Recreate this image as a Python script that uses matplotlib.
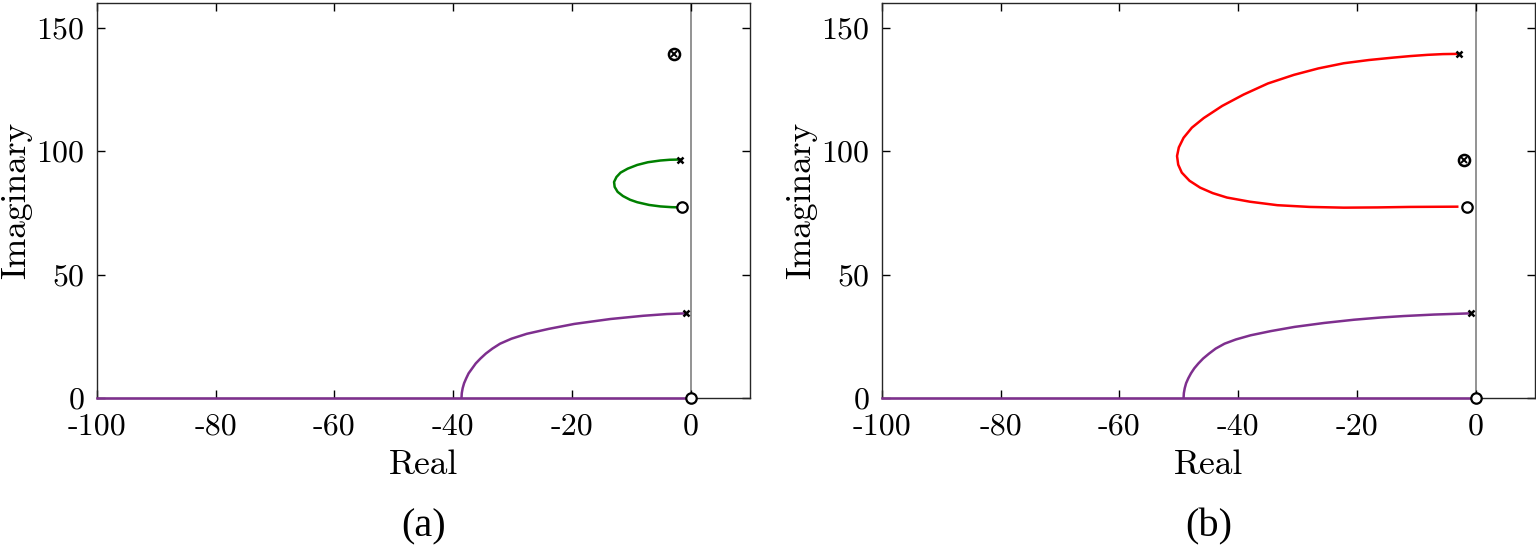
import matplotlib
matplotlib.use("Agg")
import matplotlib.pyplot as plt

# ---------------- data ----------------
# panel (a)
a_purple_x = [-38.6, -38.55, -38.4, -38.16, -37.8, -37.4, -36.8, -36.2, -35.4,
              -34.5, -33.4, -32.1, -30.2, -27.6, -23.9, -19.6, -13.5, -8.0,
              -4.0, -0.7]
a_purple_y = [0.0, 2.0, 4.0, 6.0, 8.0, 10.0, 12.0, 14.0, 16.0,
              18.0, 20.0, 22.0, 24.0, 26.0, 28.0, 30.0, 32.0, 33.3,
              34.0, 34.3]
a_green_x = [-1.85, -3.5, -5.1, -7.2, -9.0, -10.6, -11.8, -12.5, -12.9, -12.8,
             -12.3, -11.4, -10.2, -9.0, -7.0, -5.1, -3.2, -1.4]
a_green_y = [96.6, 96.5, 96.2, 95.5, 94.4, 92.9, 91.3, 89.5, 87.5, 85.5,
             83.5, 81.8, 80.3, 79.3, 78.2, 77.6, 77.3, 77.2]
a_poles = ([-1.85, -0.7], [96.6, 34.3])
a_zeros = ([-1.4, 0.0], [77.2, 0.0])
a_cancel = ([-2.8], [139.4])

# panel (b)
b_purple_x = [-49.2, -49.15, -49.0, -48.77, -48.4, -47.95, -47.4, -46.7, -45.9,
              -44.9, -43.8, -42.3, -40.4, -37.9, -34.5, -30.5, -25.5, -20.5,
              -16.0, -12.1, -7.0, -0.8]
b_purple_y = [0.0, 2.0, 4.0, 6.0, 8.0, 10.0, 12.0, 14.0, 16.0,
              18.0, 20.0, 22.0, 23.7, 25.4, 27.1, 28.8, 30.4, 31.7,
              32.6, 33.2, 33.8, 34.3]
b_red_x = [-2.8, -5.5, -8.1, -11.0, -13.8, -18.0, -22.2, -26.5, -30.6, -35.0,
           -39.1, -42.7, -45.8, -47.8, -49.2, -50.0, -50.3, -50.1, -49.5,
           -48.2, -46.4, -44.3, -41.9, -38.0, -33.4, -28.0, -22.2, -16.5,
           -11.0, -3.1]
b_red_y = [139.4, 139.3, 139.0, 138.5, 137.9, 136.9, 135.6, 133.5, 130.9, 127.4,
           122.9, 118.3, 113.4, 109.5, 105.4, 101.5, 98.0, 94.5, 91.3,
           88.0, 85.2, 83.0, 81.2, 79.5, 78.1, 77.4, 77.1, 77.2,
           77.4, 77.5]
b_poles = ([-2.8, -0.8], [139.4, 34.3])
b_zeros = ([-1.5, 0.0], [77.5, 0.0])
b_cancel = ([-2.0], [96.6])

real_axis_x = [-100, 0]
real_axis_y = [0, 0]

x_ticks = [-100, -80, -60, -40, -20, 0]
x_labels = ["-100", "-80", "-60", "-40", "-20", "0"]
y_ticks = [0, 50, 100, 150]
y_labels = ["0", "50", "100", "150"]

GREEN = "#008000"
RED = "#FF0000"
PURPLE = "#7E2F8E"

plt.rcParams["font.family"] = ["cmr10", "DejaVu Serif"]
plt.rcParams["axes.unicode_minus"] = False

fig = plt.figure(figsize=(15.36, 5.49), dpi=100)
W, H = 1536, 549
ax_a = fig.add_axes([97 / W, (H - 398) / H, 653 / W, 395 / H])
ax_b = fig.add_axes([882 / W, (H - 398) / H, 653 / W, 395 / H])


def style(ax, label):
    ax.set_xlim(-100, 10)
    ax.set_ylim(0, 160)
    ax.axvline(0, color="#808080", lw=1.2, zorder=1)
    ax.set_xticks(x_ticks)
    ax.set_xticklabels(x_labels)
    ax.set_yticks(y_ticks)
    ax.set_yticklabels(y_labels)
    ax.tick_params(direction="in", length=6, width=1.0, labelsize=23,
                   top=True, right=True)
    ax.tick_params(axis="x", pad=11)
    ax.tick_params(axis="y", pad=9)
    for s in ax.spines.values():
        s.set_linewidth(1.0)
        s.set_color("#262626")
    ax.set_xlabel("Real", fontsize=25.5, labelpad=6)
    ax.set_ylabel("Imaginary", fontsize=25.5, labelpad=3)
    ax.text(0.5, -0.327, label, transform=ax.transAxes, ha="center",
            va="center", fontsize=29, family="Liberation Serif")


def markers(ax, poles, zeros, cancel):
    ax.plot(poles[0], poles[1], "x", color="black", ms=5, mew=1.8, zorder=5,
            clip_on=False)
    ax.plot(zeros[0], zeros[1], "o", mfc="white", mec="black", ms=7.5,
            mew=1.6, zorder=5, clip_on=False)
    ax.plot(cancel[0], cancel[1], "o", mfc="white", mec="black", ms=8,
            mew=1.8, zorder=5)
    ax.plot(cancel[0], cancel[1], "x", color="black", ms=4, mew=1.4,
            zorder=6)


# panel (a)
style(ax_a, "(a)")
ax_a.plot(real_axis_x, real_axis_y, color=PURPLE, lw=1.8, zorder=3, clip_on=False)
ax_a.plot(a_purple_x, a_purple_y, color=PURPLE, lw=1.8, zorder=3)
ax_a.plot(a_green_x, a_green_y, color=GREEN, lw=1.8, zorder=3)
markers(ax_a, a_poles, a_zeros, a_cancel)

# panel (b)
style(ax_b, "(b)")
ax_b.plot(real_axis_x, real_axis_y, color=PURPLE, lw=1.8, zorder=3, clip_on=False)
ax_b.plot(b_purple_x, b_purple_y, color=PURPLE, lw=1.8, zorder=3)
ax_b.plot(b_red_x, b_red_y, color=RED, lw=1.8, zorder=3)
markers(ax_b, b_poles, b_zeros, b_cancel)

fig.savefig("out.png", dpi=100)
